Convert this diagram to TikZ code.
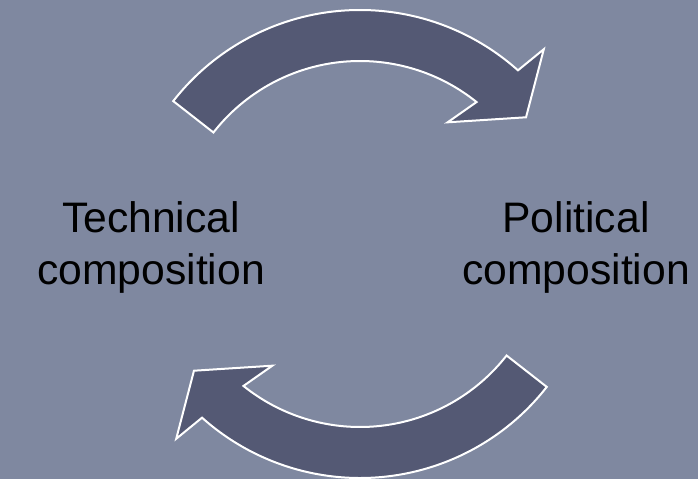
\documentclass[tikz,border=0pt]{standalone}
\usepackage{fontspec}
\setmainfont{Liberation Sans}
\usepackage{tikz}

\definecolor{slidebg}{RGB}{127,136,160}
\definecolor{arrowfill}{RGB}{84,89,116}

\begin{document}
\begin{tikzpicture}[x=0.75pt, y=0.75pt,
  cyclearrow/.style={fill=arrowfill, draw=white, line width=1.5pt, line join=miter},
  label/.style={align=center, inner sep=0pt, text=black,
    font=\fontsize{32}{38.3}\selectfont}]
\fill [slidebg] (0,0) rectangle (698,479);
\useasboundingbox (0,0) rectangle (698,479);
% upper arrow, left to right
\begin{scope}[shift={(360,232)}]
\draw [cyclearrow] (142:237) arc [start angle=142, end angle=48.2, radius=237]
  -- (47.1:270) -- (38:210.7) -- (54.9:152.4) -- (51.2:186)
  arc [start angle=51.2, end angle=142, radius=186] -- cycle;
\end{scope}
% lower arrow, right to left
\begin{scope}[shift={(360,238)}, rotate=180]
\draw [cyclearrow] (142:237) arc [start angle=142, end angle=48.2, radius=237]
  -- (47.1:270) -- (38:210.7) -- (54.9:152.4) -- (51.2:186)
  arc [start angle=51.2, end angle=142, radius=186] -- cycle;
\end{scope}
\node [label, anchor=base] (technical) at (151,195) {Technical\\composition};
\node [label, anchor=base] (political) at (576,195) {Political\\composition};
\end{tikzpicture}
\end{document}
